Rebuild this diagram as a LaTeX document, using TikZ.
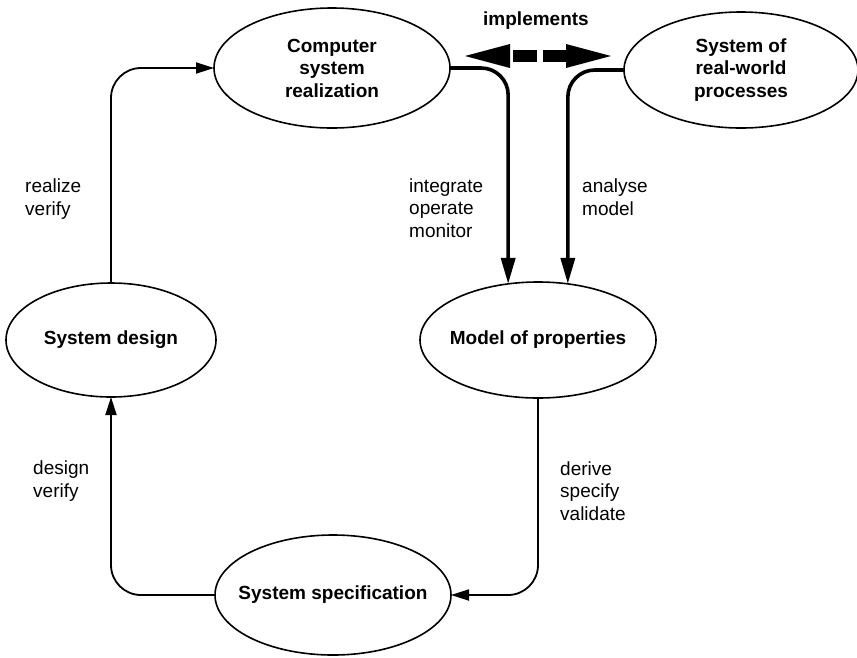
\documentclass[tikz,border=0pt]{standalone}
\usepackage{fontspec}
\setmainfont{Liberation Sans}
\usetikzlibrary{shapes.geometric,arrows.meta}
\tikzset{
  ell/.style={draw, line width=1.6pt, shape=ellipse, inner xsep=-20pt, inner ysep=0pt, outer sep=0pt,
    align=center, font=\fontsize{19}{22.5}\selectfont\bfseries},
  lbl/.style={anchor=base west, align=left, inner sep=0pt, font=\fontsize{19}{22.5}\selectfont},
  thinarrow/.style={line width=1.8pt, rounded corners=30pt, -{Triangle[length=18pt,width=11pt]}},
  thickarrow/.style={line width=3.6pt, rounded corners=27pt, -{Triangle[length=26pt,width=14pt]}},
}
\begin{document}
\begin{tikzpicture}[x=1pt,y=-1pt]
\useasboundingbox[fill=white] (0,0) rectangle (857,657);
% nodes
\node[ell, minimum width=236pt, minimum height=120pt] (comp) at (332,68) {Computer\\system\\realization};
\node[ell, minimum width=234pt, minimum height=116pt] (world) at (741,70) {System of\\real-world\\processes};
\node[ell, minimum width=210pt, minimum height=114pt] (sd) at (111,340) {System design};
\node[ell, minimum width=236pt, minimum height=116pt] (model) at (538,340) {Model of properties};
\node[ell, minimum width=236pt, minimum height=120pt] (spec) at (333,595) {System specification};
% connectors
\draw[thinarrow] (sd.north) |- (comp.west);
\draw[thinarrow] (spec.west) -| (sd.south);
\draw[thinarrow] (model.south) |- (spec.east);
\draw[thickarrow] (comp.east) -| (model.118);
\draw[thickarrow] (world.west) -| (model.62.7);
% implements double arrow
\coordinate (impL) at (465,56);
\coordinate (impR) at (611,56);
\fill (impL) -- ++(45,-12) -- ++(0,24) -- cycle;
\fill (513,50) rectangle (537,62);
\fill (543,50) rectangle (567,62);
\fill (impR) -- ++(-45,-12) -- ++(0,24) -- cycle;
\node[anchor=base, inner sep=0pt, font=\fontsize{19}{22.5}\selectfont\bfseries] (impl) at (536,25) {implements};
% labels (anchor at baseline of last line)
\node[lbl] (l1) at (25,215) {realize\\verify};
\node[lbl] (l2) at (33,497) {design\\verify};
\node[lbl] (l3) at (409,237) {integrate\\operate\\monitor};
\node[lbl] (l4) at (582,215) {analyse\\model};
\node[lbl] (l5) at (560,520) {derive\\specify\\validate};
\end{tikzpicture}
\end{document}
